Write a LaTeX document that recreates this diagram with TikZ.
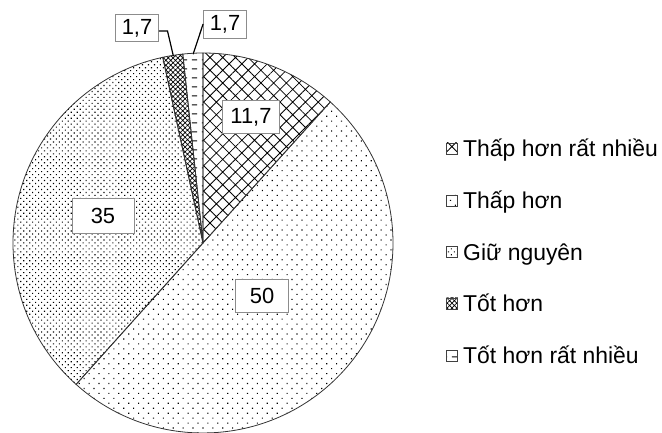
\documentclass[tikz,border=0pt]{standalone}
\usepackage{fontspec}
\setmainfont{Liberation Sans}
\usetikzlibrary{patterns.meta}

% short horizontal dashes for the last slice
\tikzdeclarepattern{
  name=hdashes,
  type=uncolored,
  bounding box={(0bp,0bp) and (10bp,9bp)},
  tile size={(10bp,9bp)},
  code={\draw[line width=1bp] (2bp,4.5bp) -- (7.5bp,4.5bp);}
}

\tikzset{
  slice/.style={draw=black!80, line width=0.8bp},
  pbighatch/.style={pattern={Hatch[angle=45,distance=9bp,line width=0.8bp]}},
  psparsedots/.style={pattern={Dots[angle=45,distance=7bp,radius=0.8bp]}},
  pdensedots/.style={pattern={Dots[angle=45,distance=4.2bp,radius=0.8bp]}},
  psmallhatch/.style={pattern={Hatch[angle=45,distance=3.4bp,line width=0.7bp]}},
  pdashes/.style={pattern=hdashes},
  valbox/.style={draw=black!45, fill=white, line width=0.8bp, inner sep=0pt,
    font=\fontsize{22}{22}\selectfont},
  legbox/.style={draw=black!75, line width=0.7bp, minimum size=11bp, inner sep=0pt},
  legtext/.style={anchor=base west, inner sep=0pt, font=\fontsize{23}{23}\selectfont},
  leader/.style={draw=black, line width=1.2bp}
}

\begin{document}
\begin{tikzpicture}[x=1bp, y=1bp]
\useasboundingbox (0,0) rectangle (662,433);

% pie, clockwise from the top
\begin{scope}[shift={(203,190)}]
\draw[slice, pbighatch] (0,0) -- (90:190) arc[start angle=90, end angle=47.92, radius=190] -- cycle;
\draw[slice, psparsedots] (0,0) -- (47.92:190) arc[start angle=47.92, end angle=-131.90, radius=190] -- cycle;
\draw[slice, pdensedots] (0,0) -- (-131.90:190) arc[start angle=-131.90, end angle=-257.77, radius=190] -- cycle;
\draw[slice, psmallhatch] (0,0) -- (-257.77:190) arc[start angle=-257.77, end angle=-263.89, radius=190] -- cycle;
\draw[slice, pdashes] (0,0) -- (-263.89:190) arc[start angle=-263.89, end angle=-270, radius=190] -- cycle;
\coordinate (tipA) at (99:189);
\coordinate (tipB) at (93:189);
\end{scope}

% values
\node[valbox, minimum width=57bp, minimum height=33bp] (v117) at (251,316){11,7};
\node[valbox, minimum width=53bp, minimum height=33bp] (v50) at (262,137){50};
\node[valbox, minimum width=62bp, minimum height=35bp] (v35) at (103,217){35};
\node[valbox, minimum width=43bp, minimum height=27bp] (v17a) at (137,405){1,7};
\node[valbox, minimum width=43bp, minimum height=28bp] (v17b) at (225,409){1,7};
\coordinate (kneeA) at (167.5,402);
\draw[leader](v17a.east |- kneeA) -- (kneeA) -- (tipA);
\draw[leader](v17b.west) -- (tipB);

% legend
\node[legbox, pbighatch] (leg0) at (452,284.5){};
\node[legtext] (lt0) at (463,276){Thấp hơn rất nhiều};
\node[legbox, psparsedots] (leg1) at (452,232.5){};
\node[legtext] (lt1) at (463,224){Thấp hơn};
\node[legbox, pdensedots] (leg2) at (452,181){};
\node[legtext] (lt2) at (463,172.5){Giữ nguyên};
\node[legbox, psmallhatch] (leg3) at (452,129.5){};
\node[legtext] (lt3) at (463,121){Tốt hơn};
\node[legbox, pdashes] (leg4) at (452,77.5){};
\node[legtext] (lt4) at (463,69){Tốt hơn rất nhiều};

\end{tikzpicture}
\end{document}
